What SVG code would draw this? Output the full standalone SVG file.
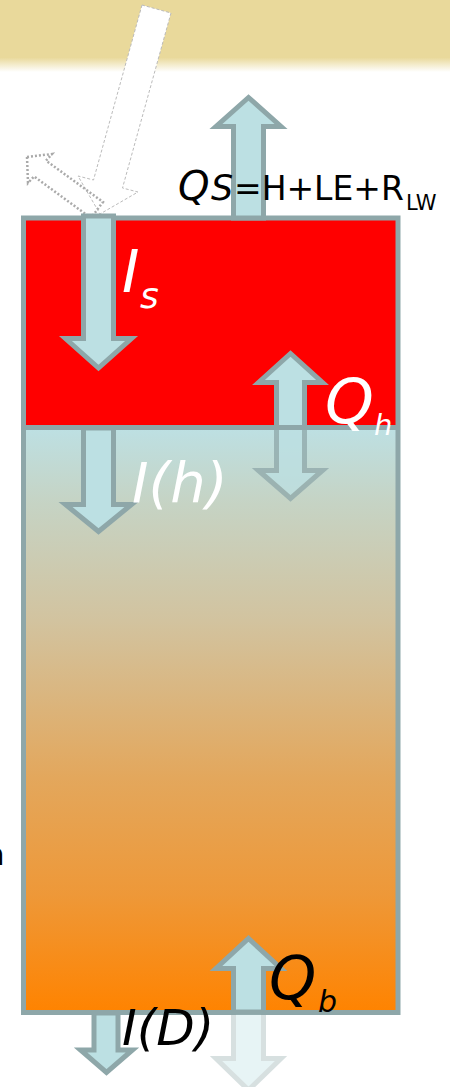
<svg xmlns="http://www.w3.org/2000/svg" width="450" height="1087" viewBox="0 0 450 1087">
<defs>
<linearGradient id="sky" x1="0" y1="0" x2="0" y2="1">
<stop offset="0" stop-color="#E9D99B"/>
<stop offset="0.8" stop-color="#E9D99B"/>
<stop offset="1" stop-color="#FFFFFF"/>
</linearGradient>
<linearGradient id="ground" x1="0" y1="0" x2="0" y2="1">
<stop offset="0" stop-color="#BDE0E3"/>
<stop offset="0.12" stop-color="#C5D4C6"/>
<stop offset="0.33" stop-color="#D2C39F"/>
<stop offset="0.6" stop-color="#E3A75C"/>
<stop offset="0.8" stop-color="#EE9838"/>
<stop offset="1" stop-color="#FF8300"/>
</linearGradient>
<style>
.arr{fill:#BCE0E3;stroke:#8EA7A9;stroke-width:5;stroke-linejoin:miter}
.box{stroke:#8EA7A9;stroke-width:5}
.t{font-family:"DejaVu Sans","Liberation Sans",sans-serif}
.it{font-style:italic}
.w{fill:#FFFFFF}
.k{fill:#000000}
</style>
</defs>
<rect x="0" y="0" width="450" height="72" fill="url(#sky)"/>
<g id="layers">
<rect id="upper" x="23.5" y="218" width="374.5" height="209.5" fill="#FF0000"/>
<rect id="lower" x="23.5" y="427.5" width="374.5" height="585" fill="url(#ground)"/>
<rect x="23.5" y="218" width="374.5" height="794.5" fill="none" class="box"/>
<line x1="23.5" y1="427.5" x2="398" y2="427.5" class="box"/>
</g>
<g id="sun">
<polygon points="142,5 171,13 122.5,188 138,192 100,214 78,176 93.5,180" fill="#FFFFFF" stroke="#BBBBBB" stroke-width="1" stroke-dasharray="3,2"/>
<polygon points="27,157 52,154 46,160.6 103,202 91,218 34,176.4 28,183" fill="none" stroke="#AAAAAA" stroke-width="2.5" stroke-dasharray="2,2"/>
</g>
<g id="connectors">
<polygon id="qs-arrow" class="arr" points="233.5,218 233.5,126.5 216,126.5 248.5,97.5 281,126.5 263.5,126.5 263.5,218"/>
<polygon id="is-arrow" class="arr" points="83.5,216 83.5,338.5 65.5,338.5 98.5,368 131.5,338.5 113.5,338.5 113.5,216"/>
<polygon id="ih-arrow" class="arr" points="83.5,428 83.5,504.5 65.5,504.5 98.5,531.5 131.5,504.5 113.5,504.5 113.5,428"/>
<polygon id="qh-down" class="arr" opacity="0.75" points="276.5,427.5 276.5,470.5 258.5,470.5 290.5,498.5 322.5,470.5 304.5,470.5 304.5,427.5"/>
<polygon id="qh-up" class="arr" points="276.5,427.5 276.5,382.5 258.5,382.5 290.5,353.5 322.5,382.5 304.5,382.5 304.5,427.5"/>
<polygon id="qb-down" class="arr" opacity="0.35" points="233.5,1012 233.5,1058.5 216,1058.5 248.5,1090 281,1058.5 263.5,1058.5 263.5,1012"/>
<polygon id="qb-up" class="arr" points="233.5,1012 233.5,968.5 216,968.5 248.5,938.5 281,968.5 263.5,968.5 263.5,1012"/>
<polygon id="id-arrow" class="arr" points="94,1013 94,1050 80.5,1050 106.5,1072.5 132.5,1050 118,1050 118,1013"/>
</g>
<g id="labels">
<text class="t k" y="200"><tspan class="it" x="178" font-size="40">Q</tspan><tspan class="it" x="211" font-size="35">S</tspan><tspan x="234" font-size="33">=H+LE+R</tspan><tspan x="406" y="210" font-size="21">LW</tspan></text>
<text class="t w"><tspan class="it" x="122" y="292" font-size="59">I</tspan><tspan class="it" x="140" y="308" font-size="36">s</tspan></text>
<text class="t w"><tspan class="it" x="325" y="423" font-size="62">Q</tspan><tspan class="it" x="374" y="435" font-size="29">h</tspan></text>
<text class="t w it" x="132" y="502" font-size="56">I(h)</text>
<text class="t k"><tspan class="it" x="269" y="999" font-size="60">Q</tspan><tspan class="it" x="318" y="1012" font-size="30">b</tspan></text>
<text class="t k it" x="122" y="1045" font-size="50">I(D)</text>
<text class="t k" x="-15" y="865" font-size="31">n</text>
</g>
</svg>
